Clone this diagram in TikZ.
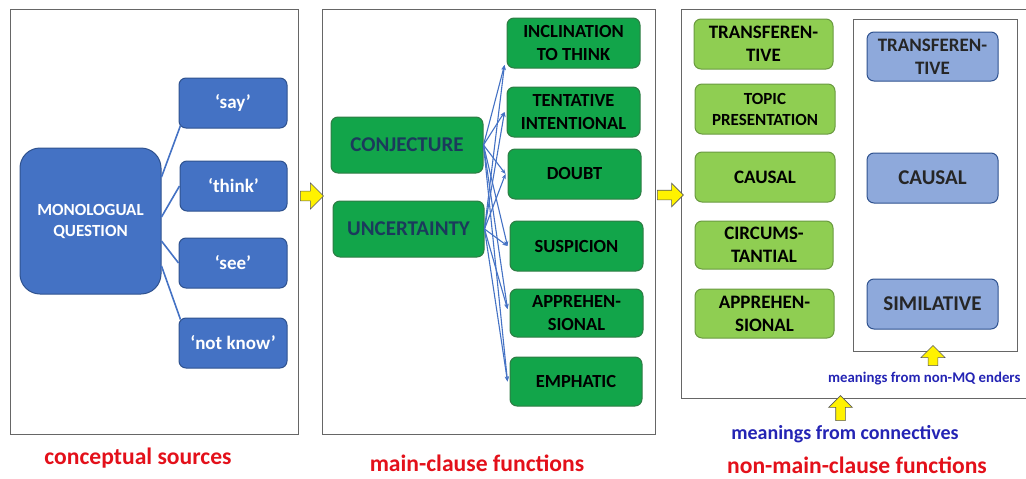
\documentclass[tikz,border=0pt]{standalone}
\usepackage{fontspec}
\setmainfont{Carlito}
\usetikzlibrary{arrows.meta, shapes.arrows}

\definecolor{qblue}{HTML}{4472C4}
\definecolor{qedge}{HTML}{2F528F}
\definecolor{mgreen}{HTML}{12A54A}
\definecolor{medge}{HTML}{2E7D44}
\definecolor{ngreen}{HTML}{8FCE52}
\definecolor{nedge}{HTML}{6A9A40}
\definecolor{lblue}{HTML}{8EA9DB}
\definecolor{ltext}{HTML}{1B3A5C}
\definecolor{capred}{HTML}{E3101A}
\definecolor{capblue}{HTML}{2424B4}

\begin{document}
\begin{tikzpicture}[x = 1pt, y = -1pt,
    every node/.style = {align = center, inner sep = 0pt},
    panel/.style = {draw = gray!80!black, line width = 0.8pt},
    box/.style = {rounded corners = 7pt, line width = 1pt, font = \fontsize{18.5}{23}\selectfont\bfseries},
    srcbox/.style = {box, draw = qedge, fill = qblue, text = white, font = \fontsize{19}{23}\selectfont\bfseries},
    mainbox/.style = {box, draw = medge, fill = mgreen, text = black},
    conn/.style = {box, draw = nedge, fill = ngreen, text = black, font = \fontsize{19}{23}\selectfont\bfseries},
    ender/.style = {box, draw = qedge, fill = lblue, text = black!85, font = \fontsize{21}{24}\selectfont\bfseries},
    link/.style = {draw = qblue, line width = 1.6pt},
    fan/.style = {draw = qblue, line width = 1.1pt, -{Stealth[length = 5pt, width = 4pt]}},
    moveon/.style = {single arrow, draw = gray!70!black, fill = yellow, line width = 0.6pt, inner sep = 4.5pt, single arrow head indent = 0pt},
    caption/.style = {font = \fontsize{23.6}{26}\selectfont\bfseries, text = capred},
    note/.style = {font = \fontsize{20}{24}\selectfont\bfseries, text = capblue}]
    \useasboundingbox (0, 0) rectangle (1026, 479);

    % panels
    \node[panel, minimum width = 288pt, minimum height = 425pt] (sources) at (154, 221.5) {};
    \node[panel, minimum width = 333pt, minimum height = 425pt] (mainfn) at (488.5, 221.5) {};
    \node[panel, minimum width = 359pt, minimum height = 389pt] (nonmain) at (860.5, 203.5) {};
    \node[panel, minimum width = 164pt, minimum height = 332pt] (enders) at (935, 185) {};

    % conceptual sources
    \node[srcbox, rounded corners = 20pt, minimum width = 141pt, minimum height = 146pt, font = \fontsize{17}{21}\selectfont\bfseries] (mq) at (90.5, 221) {MONOLOGUAL\\QUESTION};
    \node[srcbox, minimum width = 108pt, minimum height = 50pt] (say) at (233, 103) {‘say’};
    \node[srcbox, minimum width = 107pt, minimum height = 50pt] (think) at (233.5, 186) {‘think’};
    \node[srcbox, minimum width = 108pt, minimum height = 50pt] (see) at (233, 263) {‘see’};
    \node[srcbox, minimum width = 108pt, minimum height = 50pt] (notknow) at (233, 343) {‘not know’};
    \draw[link] ([yshift = 44pt]mq.east) -- ([shift = {(2pt, 3pt)}]say.south west);
    \draw[link] ([yshift = 4pt]mq.east) -- (think.west);
    \draw[link] ([yshift = -20pt]mq.east) -- (see.west);
    \draw[link] ([yshift = -45pt]mq.east) -- ([shift = {(2pt, -2pt)}]notknow.north west);

    % main-clause functions
    \node[mainbox, text = ltext, minimum width = 152pt, minimum height = 56pt, font = \fontsize{21}{24}\selectfont\bfseries] (conj) at (407, 145) {CONJECTURE};
    \node[mainbox, text = ltext, minimum width = 151pt, minimum height = 56pt, font = \fontsize{21}{24}\selectfont\bfseries] (unc) at (408.5, 229) {UNCERTAINTY};
    \node[mainbox, minimum width = 133pt, minimum height = 50pt] (incl) at (573.5, 43) {INCLINATION\\TO THINK};
    \node[mainbox, minimum width = 133pt, minimum height = 50pt] (tent) at (573.5, 112) {TENTATIVE\\INTENTIONAL};
    \node[mainbox, minimum width = 133pt, minimum height = 50pt] (doubt) at (574.5, 174) {DOUBT};
    \node[mainbox, minimum width = 133pt, minimum height = 50pt] (susp) at (576.5, 246) {SUSPICION};
    \node[mainbox, minimum width = 133pt, minimum height = 48pt] (appr) at (576.5, 313) {APPREHEN-\\SIONAL};
    \node[mainbox, minimum width = 132pt, minimum height = 49pt] (emph) at (576, 381.5) {EMPHATIC};
    \foreach \t/\dy in {incl/-22, tent/0, doubt/0, susp/0, appr/4, emph/0} {
        \draw[fan] (conj.east) -- ([shift = {(-2pt, \dy pt)}]\t.west);
        \draw[fan] (unc.east) -- ([shift = {(-2pt, \dy pt)}]\t.west);
    }

    % non-main-clause functions
    \node[conn, minimum width = 139pt, minimum height = 50pt] (trans) at (763.5, 44) {TRANSFEREN-\\TIVE};
    \node[conn, minimum width = 140pt, minimum height = 50pt, font = \fontsize{17}{21}\selectfont\bfseries] (topic) at (765, 109) {TOPIC\\PRESENTATION};
    \node[conn, minimum width = 140pt, minimum height = 50pt] (causal) at (765, 177) {CAUSAL};
    \node[conn, minimum width = 138pt, minimum height = 48pt] (circ) at (764, 245) {CIRCUMS-\\TANTIAL};
    \node[conn, minimum width = 139pt, minimum height = 49pt] (apprb) at (764.5, 313.5) {APPREHEN-\\SIONAL};
    \node[ender, minimum width = 131pt, minimum height = 49pt, font = \fontsize{19}{23}\selectfont\bfseries] (transb) at (932.5, 56.5) {TRANSFEREN-\\TIVE};
    \node[ender, minimum width = 131pt, minimum height = 50pt] (causalb) at (932.5, 178) {CAUSAL};
    \node[ender, minimum width = 131pt, minimum height = 50pt] (simil) at (932.5, 304) {SIMILATIVE};

    % arrows between panels
    \node[moveon, minimum height = 23pt, minimum width = 26pt, single arrow head extend = 8pt] (go1) at (309.5, 196) {};
    \node[moveon, minimum height = 26pt, minimum width = 23pt, single arrow head extend = 7pt] (go2) at (668, 195) {};
    \node[moveon, shape border rotate = 90, minimum height = 20pt, minimum width = 24pt, single arrow head extend = 7pt] (up1) at (933, 358) {};
    \node[moveon, shape border rotate = 90, minimum height = 25pt, minimum width = 23pt, single arrow head extend = 7pt] (up2) at (840.5, 410.5) {};

    % captions
    \node[note, font = \fontsize{14.8}{18}\selectfont\bfseries, anchor = west] (endlab) at (828, 379) {meanings from non-MQ enders};
    \node[note] (connlab) at (845, 434) {meanings from connectives};
    \node[caption] (srccap) at (138, 458) {conceptual sources};
    \node[caption] (maincap) at (477, 463) {main-clause functions};
    \node[caption] (nonmaincap) at (857, 465) {non-main-clause functions};
\end{tikzpicture}
\end{document}
